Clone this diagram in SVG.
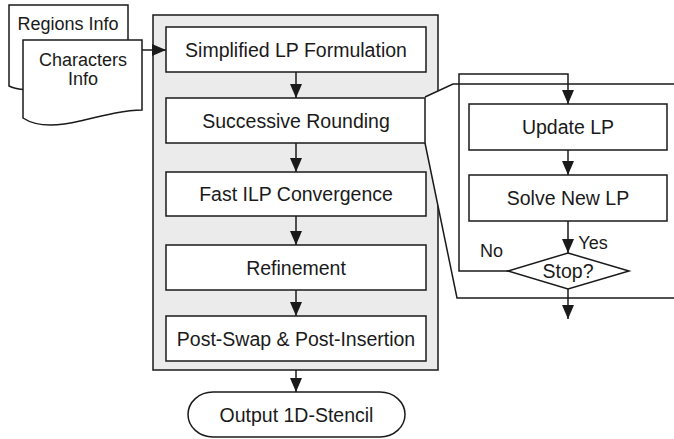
<svg xmlns="http://www.w3.org/2000/svg" width="674" height="439" viewBox="0 0 674 439">
  <style>
    .ln { fill: none; stroke: #1a1a1a; stroke-width: 1.5; }
    .box { fill: #ffffff; stroke: #1a1a1a; stroke-width: 1.5; }
    .txt { font-family: "Liberation Sans", Arial, sans-serif; font-size: 19.5px; fill: #1a1a1a; text-anchor: middle; }
    .sm { font-size: 18px; }
    .arr { fill: none; stroke: #1a1a1a; stroke-width: 1.5; marker-end: url(#head); }
  </style>
  <defs>
    <marker id="head" markerUnits="userSpaceOnUse" markerWidth="14" markerHeight="12" refX="14" refY="6" orient="auto">
      <path d="M0,0 L14,6 L0,12 Z" fill="#1a1a1a"/>
    </marker>
  </defs>

  <!-- container of the main flow -->
  <rect id="container" x="153" y="15" width="285" height="355" fill="#ebebeb" stroke="#1a1a1a" stroke-width="1.5"/>

  <!-- zoom-in panel for successive rounding -->
  <g id="detail-panel">
    <path d="M425,97 L453,84 L676,84 L676,298 L457,298 L425,143 Z" fill="#ffffff" stroke="none"/>
    <path class="ln" d="M425,97 L453,84 L676,84 M676,298 L457,298 L425,143"/>
  </g>

  <!-- input documents -->
  <g id="regions-info">
    <path class="box" d="M9,5 H128 V75 C100,72 60,92 23,89.6 C17,89 13,88 9,86 Z"/>
    <text class="txt sm" x="68" y="30">Regions Info</text>
  </g>
  <g id="characters-info">
    <path class="box" d="M23,40 H142 V110 C125,110 105,115 80,121 C55,127 35,126 23,118 Z"/>
    <text class="txt sm" x="83" y="66">Characters</text>
    <text class="txt sm" x="83" y="85">Info</text>
  </g>

  <!-- main flow steps -->
  <g id="simplified-lp">
    <rect class="box" x="166" y="27" width="260" height="45"/>
    <text class="txt" x="296" y="56.5">Simplified LP Formulation</text>
  </g>
  <g id="successive-rounding">
    <rect class="box" x="166" y="98" width="259" height="45"/>
    <text class="txt" x="296" y="127.5">Successive Rounding</text>
  </g>
  <g id="fast-ilp">
    <rect class="box" x="166" y="172" width="260" height="44"/>
    <text class="txt" x="296" y="201">Fast ILP Convergence</text>
  </g>
  <g id="refinement">
    <rect class="box" x="166" y="245" width="260" height="45"/>
    <text class="txt" x="296" y="274.5">Refinement</text>
  </g>
  <g id="post-swap">
    <rect class="box" x="166" y="316" width="260" height="45"/>
    <text class="txt" x="296" y="345.5">Post-Swap &amp; Post-Insertion</text>
  </g>
  <g id="output">
    <rect class="box" x="188" y="392" width="217" height="45" rx="25" ry="22.5"/>
    <text class="txt" x="296.5" y="421.5">Output 1D-Stencil</text>
  </g>

  <!-- detail steps -->
  <g id="update-lp">
    <rect class="box" x="469" y="104" width="198" height="46"/>
    <text class="txt" x="568" y="134">Update LP</text>
  </g>
  <g id="solve-lp">
    <rect class="box" x="469" y="175" width="198" height="46"/>
    <text class="txt" x="568" y="205">Solve New LP</text>
  </g>
  <g id="stop">
    <path class="box" d="M568,253 L629,271 L568,289 L508,271 Z"/>
    <text class="txt" x="568" y="278">Stop?</text>
  </g>

  <!-- connectors -->
  <g id="connectors">
    <line class="arr" x1="142" y1="50" x2="166" y2="50"/>
    <line class="arr" x1="296" y1="72" x2="296" y2="98"/>
    <line class="arr" x1="296" y1="143" x2="296" y2="172"/>
    <line class="arr" x1="296" y1="216" x2="296" y2="245"/>
    <line class="arr" x1="296" y1="290" x2="296" y2="316"/>
    <line class="arr" x1="296" y1="370" x2="296" y2="392"/>
    <path class="arr" d="M508,271 H459 V74 H568 V104"/>
    <line class="arr" x1="568" y1="150" x2="568" y2="175"/>
    <line class="arr" x1="568" y1="221" x2="568" y2="253"/>
    <line class="arr" x1="568" y1="289" x2="568" y2="319"/>
    <text class="txt sm" x="593" y="249">Yes</text>
    <text class="txt sm" x="491.5" y="257">No</text>
  </g>
</svg>
